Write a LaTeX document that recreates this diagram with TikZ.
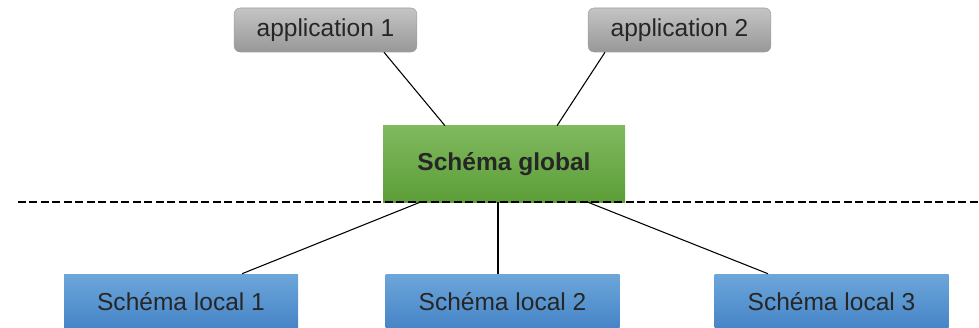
\documentclass[tikz,border=0pt]{standalone}
\usepackage{fontspec}
\setmainfont{Liberation Sans}
\usepackage{tikz}
\usetikzlibrary{positioning}
\usetikzlibrary{calc}
\definecolor{apptop}{HTML}{C4C4C4}
\definecolor{appbot}{HTML}{989898}
\definecolor{globtop}{HTML}{80B95E}
\definecolor{globbot}{HTML}{5C9E38}
\definecolor{loctop}{HTML}{6CA6DA}
\definecolor{locbot}{HTML}{4583C6}
\definecolor{txt}{HTML}{262626}
\tikzstyle{box}=[rectangle,inner sep=0pt,text=txt,font=\fontsize{18.4}{22}\selectfont]
\tikzstyle{appbox}=[box,rounded corners=4.5pt,draw=gray!75,top color=apptop,bottom color=appbot,minimum width=137pt,minimum height=33pt]
\tikzstyle{globalbox}=[box,top color=globtop,bottom color=globbot,minimum width=181.5pt,minimum height=57pt,font=\fontsize{18.4}{22}\selectfont\bfseries]
\tikzstyle{localbox}=[box,top color=loctop,bottom color=locbot,minimum width=175.5pt,minimum height=42pt]
\tikzstyle{link}=[draw,line width=0.8pt]

\begin{document}
\begin{tikzpicture}[x=0.75pt,y=-0.75pt]

    \useasboundingbox (0,0) rectangle (979,328);

    \foreach \pos/\name/\txt in {{(325.5,30)/app1/application 1}, {(679.5,30)/app2/application 2}}
        \node[appbox] (\name) at \pos {\txt};

    \node[globalbox] (global) at (504,164) {Schéma global};

    \foreach \pos/\name/\txt in {{(181,302)/loc1/Schéma local 1}, {(502.5,302)/loc2/Schéma local 2}, {(831.5,302)/loc3/Schéma local 3}}
        \node[localbox] (\name) at \pos {\txt};

    % applications down to the global schema
    \foreach \src/\sx/\dest/\dx in {app1/58.5/global/-59, app2/-74.5/global/53}
            \path[link] ($(\src.south)+(\sx,0)$) -- ($(\dest.north)+(\dx,0)$);

    % global schema down to the local ones
    \foreach \dest/\sx/\dx in {loc1/-84/61, loc2/-6/-4.5, loc3/84/-63.5}
            \path[link] ($(global.south)+(\sx,0)$) -- ($(\dest.north)+(\dx,0)$);

    \coordinate (dashL) at (18,202);
    \coordinate (dashR) at (979,202);
    \draw[line width=2.2pt, dash pattern=on 6pt off 2.6pt] (dashL) -- (dashR);

\end{tikzpicture}
\end{document}
